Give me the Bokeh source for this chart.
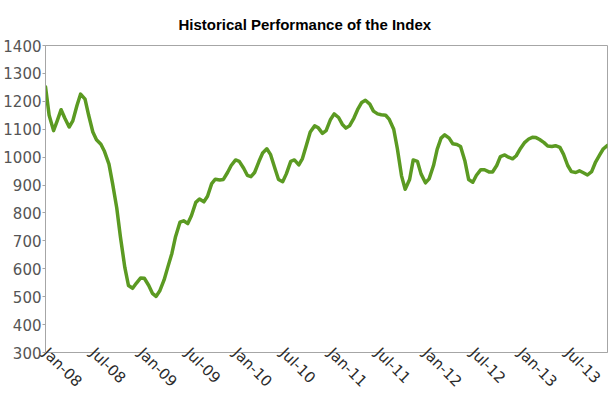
import math
import pandas as pd
from bokeh.plotting import figure
from bokeh.models import ColumnDataSource, FixedTicker, Range1d
from bokeh.embed import file_html
from bokeh.resources import INLINE

# Semi-monthly index levels (1st and 15th of each month, Jan-08 .. Dec-13)
index_values = [
    1252, 1150, 1095, 1130, 1170, 1140, 1108, 1130, 1185, 1226,
    1208, 1150, 1090, 1062, 1046, 1020, 975, 905, 818, 715,
    605, 540, 530, 548, 567, 566, 540, 512, 501, 520,
    560, 605, 655, 715, 767, 772, 762, 790, 838, 850,
    840, 860, 905, 921, 918, 920, 945, 970, 990, 985,
    960, 935, 930, 945, 985, 1015, 1030, 1010, 960, 920,
    912, 940, 985, 990, 972, 995, 1045, 1090, 1112, 1105,
    1085, 1095, 1135, 1155, 1142, 1118, 1104, 1112, 1140, 1170,
    1196, 1204, 1190, 1165, 1155, 1152, 1150, 1135, 1100, 1030,
    933, 885, 920, 990, 985, 940, 908, 922, 970, 1028,
    1068, 1080, 1068, 1048, 1045, 1038, 985, 920, 910, 935,
    955, 955, 947, 947, 970, 1002, 1008, 1000, 994, 1005,
    1032, 1051, 1065, 1071, 1070, 1063, 1052, 1040, 1038, 1041,
    1035, 1010, 970, 948, 945, 951, 943, 936, 948, 980,
    1008, 1030, 1042,
]
dates = pd.date_range("2008-01-01", periods=len(index_values), freq="SMS")

tick_dates = ["2008-01-01", "2008-07-01", "2009-01-01", "2009-07-01", "2010-01-01",
              "2010-07-01", "2011-01-01", "2011-07-01", "2012-01-01", "2012-07-01",
              "2013-01-01", "2013-07-01"]
tick_labels = ["Jan-08", "Jul-08", "Jan-09", "Jul-09", "Jan-10", "Jul-10",
               "Jan-11", "Jul-11", "Jan-12", "Jul-12", "Jan-13", "Jul-13"]
y_ticks = [300, 400, 500, 600, 700, 800, 900, 1000, 1100, 1200, 1300, 1400]

source = ColumnDataSource(dict(date=dates, value=index_values))

def to_ms(s):
    return pd.Timestamp(s).value / 1e6

p = figure(width=610, height=399, x_axis_type="datetime",
           output_backend="svg", toolbar_location=None,
           title="Historical Performance of the Index",
           min_border_left=43, min_border_right=3, min_border_top=45, min_border_bottom=40)

p.x_range = Range1d(to_ms("2008-01-01"), to_ms("2013-12-01"))
p.y_range = Range1d(300, 1400)

p.line("date", "value", source=source, line_color="#5b9a22", line_width=3.5,
       line_join="round", line_cap="round")

p.title.text_font = "Liberation Sans"
p.title.text_font_size = "15px"
p.title.text_font_style = "bold"
p.title.text_color = "#000000"
p.title.align = "left"
p.title.offset = 133
p.title.vertical_align = "bottom"
p.title.standoff = 26

p.xgrid.visible = False
p.ygrid.visible = False
p.outline_line_color = "#a6a6a6"
p.outline_line_width = 1
p.background_fill_color = "white"
p.border_fill_color = "white"

tick_ms = [to_ms(d) for d in tick_dates]
p.xaxis.ticker = FixedTicker(ticks=tick_ms)
p.xaxis.major_label_overrides = {t: l for t, l in zip(tick_ms, tick_labels)}
p.xaxis.major_label_orientation = -math.pi / 4
p.xaxis.major_label_text_font = "DejaVu Sans"
p.xaxis.major_label_text_font_size = "15px"
p.xaxis.major_label_text_color = "#2b2b2b"
p.xaxis.major_label_standoff = -2
p.xaxis.major_tick_out = 0
p.xaxis.major_tick_in = 0
p.xaxis.minor_tick_out = 0
p.xaxis.minor_tick_in = 0
p.xaxis.axis_line_color = "#a6a6a6"

p.yaxis.ticker = FixedTicker(ticks=y_ticks)
p.yaxis.major_label_text_font = "DejaVu Sans"
p.yaxis.major_label_text_font_size = "15px"
p.yaxis.major_label_text_color = "#555555"
p.yaxis.major_label_standoff = 1
p.yaxis.major_tick_out = 3
p.yaxis.major_tick_in = 0
p.yaxis.minor_tick_out = 0
p.yaxis.minor_tick_in = 0
p.yaxis.major_tick_line_color = "#a6a6a6"
p.yaxis.axis_line_color = "#a6a6a6"

open("out.html", "w").write(file_html(p, INLINE))
